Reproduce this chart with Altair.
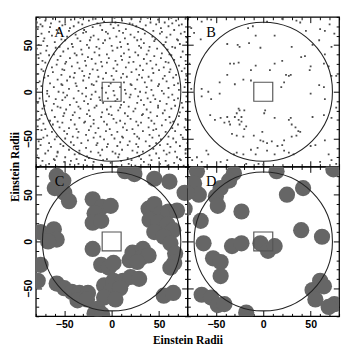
import altair as alt
import pandas as pd

# ---------------- data (Einstein radii) ----------------
A_POINTS = [
(-79,74),(-76,79),(-75,72),(-70,76),(-64,73),(-62,78),(-55,75),(-50,80),(-49,72),(-43,77),(-35,74),(-33,79),(-31,72),(-24,76),(-17,78),(-15,73),(-8,75),(-1,72),(3,79),(4,74),(11,76),(19,73),(21,78),(22,72),(30,75),(38,79),(41,74),(47,72),(49,77),(56,74),(63,79),(64,73),(68,76),(74,72),(78,78),
(-78,67),(-73,70),(-66,64),(-65,69),(-58,66),(-52,71),(-45,65),(-44,68),(-40,70),(-29,66),(-27,64),(-20,69),(-12,71),(-10,66),(-6,64),(2,68),(7,71),(8,65),(15,67),(26,70),(28,64),(33,67),(36,71),(44,65),(52,68),(53,64),(60,70),(66,66),(71,71),(77,64),
(-80,59),(-74,62),(-71,57),(-63,60),(-56,63),(-53,56),(-47,59),(-38,61),(-36,57),(-30,63),(-22,58),(-19,60),(-14,56),(-4,62),(-2,57),(5,59),(12,63),(14,57),(20,61),(24,58),(31,56),(35,62),(43,59),(46,56),(51,62),(58,58),(62,61),(69,56),(73,62),(79,58),
(-77,50),(-72,54),(-68,49),(-60,53),(-55,48),(-49,55),(-42,51),(-41,48),(-33,54),(-26,50),(-23,55),(-16,48),(-9,52),(-7,55),(0,49),(9,53),(10,48),(17,51),(27,55),(29,49),(34,52),(40,48),(45,54),(55,50),(57,53),(64,48),(70,55),(72,51),(79,53),
(-79,46),(-75,41),(-69,44),(-61,40),(-59,47),(-51,43),(-46,46),(-39,41),(-32,45),(-31,40),(-24,47),(-18,42),(-13,46),(-5,40),(1,44),(6,47),(13,41),(18,45),(25,42),(31,47),(37,40),(39,44),(48,46),(53,41),(59,45),(61,40),(67,47),(75,43),
(-77,36),(-73,33),(-66,39),(-57,34),(-54,38),(-48,32),(-44,36),(-37,39),(-28,33),(-25,37),(-21,35),(-13,39),(-11,32),(-3,36),(4,33),(10,38),(11,34),(19,37),(23,32),(28,39),(34,35),(41,33),(45,38),(52,36),(57,32),(63,39),(66,34),(73,37),(78,33),
(-80,28),(-74,24),(-70,31),(-63,26),(-58,29),(-52,24),(-49,30),(-42,27),(-36,31),(-34,25),(-27,28),(-20,24),(-17,30),(-10,27),(-5,31),(2,25),(6,29),(15,26),(18,31),(26,24),(30,28),(37,30),(43,25),(47,29),(55,26),(60,31),(62,24),(71,28),(77,25),
(-78,19),(-72,22),(-67,17),(-62,21),(-53,18),(-50,23),(-44,16),(-39,20),(-31,22),(-29,17),(-23,19),(-15,23),(-14,16),(-6,20),(0,17),(5,22),(12,19),(16,16),(21,21),(29,18),(33,23),(39,16),(44,20),(50,23),(56,17),(61,21),(68,18),(74,22),(79,17),
(-76,11),(-71,15),(-65,9),(-57,13),(-53,8),(-47,12),(-40,15),(-38,9),(-30,12),(-24,15),(-21,8),(-16,11),(-9,14),(-1,9),(2,13),(10,15),(13,10),(20,8),(27,13),(32,15),(35,10),(42,12),(50,8),(54,14),(58,11),(65,15),(70,9),(78,13),
(-79,3),(-74,6),(-68,1),(-61,5),(-56,0),(-52,7),(-45,3),(-37,6),(-35,1),(-27,4),(-19,7),(-17,0),(-10,4),(-3,6),(2,1),(9,5),(14,2),(21,7),(25,3),(30,0),(37,5),(42,2),(49,6),(53,1),(60,4),(66,7),(71,2),(77,5),
(-80,-3),(-76,-7),(-68,-2),(-66,-5),(-59,-8),(-51,-1),(-49,-6),(-47,-4),(-40,-7),(-31,-2),(-27,-5),(-22,-8),(-21,-3),(-13,-6),(-6,-1),(-4,-7),(3,-4),(6,-8),(15,-2),(19,-6),(20,-3),(28,-5),(36,-1),(38,-7),(44,-4),(46,-8),(55,-2),(60,-6),(64,-3),(70,-7),(79,-5),
(-78,-12),(-71,-15),(-69,-10),(-61,-13),(-57,-16),(-52,-9),(-44,-14),(-37,-11),(-35,-16),(-29,-10),(-25,-13),(-16,-15),(-12,-9),(-9,-12),(-1,-16),(4,-10),(10,-14),(13,-11),(18,-16),(27,-12),(31,-9),(34,-14),(41,-11),(49,-15),(51,-10),(58,-13),(66,-9),(67,-15),(74,-12),
(-79,-21),(-73,-18),(-70,-24),(-63,-20),(-54,-17),(-50,-23),(-48,-19),(-39,-22),(-33,-18),(-26,-24),(-24,-20),(-18,-17),(-10,-22),(-5,-19),(-3,-24),(7,-20),(9,-17),(14,-23),(23,-21),(25,-18),(33,-24),(37,-19),(41,-22),(49,-17),(54,-23),(56,-20),(63,-18),(72,-22),(75,-17),(80,-21),
(-76,-29),(-74,-25),(-65,-31),(-60,-27),(-57,-32),(-51,-26),(-43,-30),(-41,-25),(-34,-28),(-28,-32),(-23,-26),(-19,-30),(-11,-27),(-8,-32),(0,-25),(2,-29),(9,-31),(17,-26),(20,-29),(26,-32),(32,-25),(39,-28),(42,-31),(48,-26),(57,-30),(61,-27),(65,-32),(71,-26),(78,-29),
(-78,-37),(-72,-34),(-70,-40),(-62,-35),(-55,-38),(-52,-33),(-45,-39),(-39,-35),(-37,-40),(-29,-33),(-22,-37),(-19,-34),(-14,-39),(-5,-35),(-2,-40),(5,-33),(12,-38),(14,-34),(22,-40),(28,-36),(31,-33),(39,-38),(45,-34),(47,-40),(53,-36),(62,-33),(64,-39),(70,-35),(77,-38),
(-80,-45),(-74,-41),(-68,-47),(-63,-43),(-58,-48),(-50,-42),(-47,-45),(-41,-48),(-35,-43),(-27,-46),(-24,-41),(-17,-44),(-12,-48),(-6,-42),(0,-46),(6,-43),(11,-48),(16,-41),(24,-45),(27,-48),(33,-42),(40,-46),(44,-41),(50,-47),(57,-43),(60,-48),(67,-42),(73,-46),(79,-41),
(-77,-53),(-72,-49),(-66,-55),(-60,-51),(-54,-56),(-49,-50),(-43,-54),(-36,-49),(-32,-55),(-25,-52),(-19,-49),(-15,-55),(-8,-51),(-4,-56),(3,-50),(9,-54),(12,-49),(19,-53),(26,-56),(29,-50),(36,-53),(43,-49),(47,-55),(52,-51),(59,-56),(65,-50),(68,-54),(75,-49),(80,-55),
(-79,-61),(-75,-57),(-67,-63),(-64,-59),(-57,-64),(-51,-58),(-45,-62),(-40,-57),(-34,-63),(-27,-60),(-22,-64),(-16,-57),(-10,-62),(-5,-59),(1,-64),(6,-58),(11,-62),(17,-57),(22,-63),(28,-59),(33,-64),(40,-58),(44,-61),(51,-57),(55,-63),(62,-59),(67,-64),(72,-58),(78,-62),
(-79,-68),(-77,-71),(-70,-66),(-61,-72),(-58,-69),(-57,-65),(-49,-70),(-39,-67),(-37,-72),(-34,-66),(-26,-69),(-24,-71),(-14,-65),(-12,-68),(-5,-72),(4,-66),(7,-70),(8,-67),(17,-71),(27,-65),(29,-69),(31,-72),(40,-68),(47,-66),(50,-71),(58,-67),(61,-65),(69,-70),(72,-72),(78,-66),
(-80,-76),(-75,-79),(-73,-74),(-66,-77),(-60,-73),(-58,-80),(-50,-75),(-44,-78),(-43,-74),(-35,-77),(-28,-73),(-26,-79),(-19,-75),(-11,-78),(-9,-73),(-1,-76),(5,-80),(10,-74),(18,-77),(21,-73),(25,-79),(34,-75),(39,-78),(42,-73),(51,-77),(57,-74),(59,-79),(66,-76),(73,-73),(76,-79),
]

B_POINTS = [
(-16,68),(-11,70),(4,75),(20,78),(35,76),(39,74),(45,65),(60,67),(65,65),(70,72),(75,62),
(-38,51),(-27,50),(-25,48),(-15,52),(-8,60),(-3,47),(12,60),(30,48),(52,50),(59,55),(65,40),(64,30),
(-35,30),(-31,30),(-26,31),(-8,28),(12,30),(20,33),(40,37),(44,38),(50,27),(49,23),(69,27),(72,17),
(59,7),(64,5),(50,-2),(65,-8),(27,17),(29,18),(24,18),(22,10),(19,5),(7,23),(-13,23),(-38,18),
(-30,8),(-46,10),(-58,0),(-65,3),(-55,-8),(-13,12),(-21,13),(-46,-2),(-65,-5),(77,-17),(77,17),(72,48),(-78,30),(-76,3),
(-26,-18),(-25,-20),(-28,-23),(-30,-27),(-23,-27),(-20,-20),(-26,-30),(-23,-32),(-25,-35),(-18,-37),
(2,-20),(1,-23),(12,-28),(27,-30),(29,-28),(30,-35),(34,-38),(37,-42),(39,-43),(35,-47),(30,-48),
(52,-27),(64,-25),(72,-28),(-56,-25),(-51,-30),(-45,-28),(-38,-27),(-36,-32),(-35,-35),(-41,-33),
(-20,-40),(-33,-45),(-28,-47),(-21,-48),(-10,-47),(-1,-43),(0,-53),(-3,-52),(4,-55),(9,-53),(15,-58),(20,-57),(22,-52),
(-6,-60),(-13,-62),(-28,-65),(-31,-67),(-21,-67),(-8,-67),(4,-63),(12,-67),(22,-63),(27,-65),(32,-67),
(-5,-77),(0,-78),(-18,-77),(-38,-73),(-60,-63),(-58,-67),(-65,-75),(-45,-75),(-70,-70),(-75,-73),
(50,-58),(55,-57),(65,-52),(69,-67),(72,-73),(77,-77),(60,-75),
(-73,63),(-76,68),(-66,56),(-65,75),(-55,77),
]

C_CENTERS = [
(-58,70),(-51,65),(-60,57),(-50,52),(-45,43),
(-20,45),(-10,37),(-1,38),(-18,30),(-20,20),(-11,22),
(14,75),(24,72),(45,67),(61,64),(77,52),
(39,35),(45,40),(52,30),(60,32),(69,33),(40,23),(49,20),(59,18),(65,12),(45,10),(55,5),(62,-2),
(-75,10),(-61,13),(-58,2),(-67,0),(-20,-8),
(-11,-25),(-3,-28),(2,-23),(19,-20),(22,-12),(33,-8),(32,-17),(39,-15),(27,-22),
(67,-13),(66,-23),(62,-28),(-75,-25),(-78,-42),
(-58,-45),(-50,-50),(-42,-54),(-34,-55),(-25,-55),(-36,-63),(-26,-62),
(-8,-47),(2,-42),(12,-42),(20,-38),(29,-40),(-1,-53),(9,-50),(-8,-60),(4,-62),
(-15,-72),(-18,-77),(-10,-78),(55,-58),(65,-55),
]

D_CENTERS = [
(-70,75),(-73,62),(-68,50),(-81,52),(-83,35),
(-31,73),(-36,65),(-45,57),(-50,48),(-48,38),
(14,75),(74,77),(42,57),(25,50),(-23,32),(-66,22),(-63,-2),
(-33,-5),(-23,-2),(-3,-2),(5,-10),(12,-5),(40,12),(62,5),
(-53,-18),(-45,-22),(-45,-37),
(-65,-57),(-55,-60),(-48,-68),(-41,-67),(-18,-76),
(52,-52),(60,-42),(64,-48),(55,-62),(75,-67),(69,-70),
]

CENTER = [(0, 0)]
PANEL_LETTERS = ["A", "B", "C", "D"]
LETTER_POS = (-55, 64)
AXIS_TITLE = "Einstein Radii"
MAJOR_TICKS = [-50, 0, 50]
MINOR_TICKS = [-80, -70, -60, -40, -30, -20, -10, 10, 20, 30, 40, 60, 70, 80]
DOMAIN = [-80, 80]
RING_RADIUS = 73      # Einstein radii
BOX_HALF = 10         # Einstein radii

W, H = 158, 156
PXU_X = W / (DOMAIN[1] - DOMAIN[0])
RING_SIZE = (2 * RING_RADIUS * PXU_X) ** 2
BOX_SIZE = (2 * BOX_HALF * PXU_X) ** 2

XS = alt.Scale(domain=DOMAIN, nice=False, zero=False)
YS = alt.Scale(domain=DOMAIN, nice=False, zero=False)


def df(pts):
    return pd.DataFrame(pts, columns=["x", "y"])


def ax(orient, vals, size, labels=False, title=None, **kw):
    return alt.Axis(orient=orient, values=vals, tickSize=size, offset=-size,
                    domain=False, grid=False, labels=labels, title=title,
                    tickColor="black", tickWidth=1, **kw)


def panel(points, letter, big, xlab, ylab, xtitle, ytitle):
    xkw = dict(labelPadding=3, labelFontSize=11, labelColor="black",
               labelFont="Liberation Sans", labelFontWeight="bold")
    ykw = dict(labelPadding=2, labelFontSize=11, labelColor="black", labelAngle=-90,
               labelAlign="center", labelBaseline="bottom",
               labelFont="Liberation Sans", labelFontWeight="bold")
    if xtitle:
        xkw.update(titleX=W, titleAlign="center", titlePadding=5, titleFont="Liberation Serif",
                   titleFontSize=12, titleFontWeight="bold", titleColor="black")
    if ytitle:
        ykw.update(titleY=H, titleAlign="center", titlePadding=2, titleFont="Liberation Serif",
                   titleFontSize=12, titleFontWeight="bold", titleColor="black")
    xa = ax("bottom", MAJOR_TICKS, 6, labels=xlab, title=AXIS_TITLE if xtitle else None, **xkw)
    ya = ax("left", MAJOR_TICKS, 6, labels=ylab, title=AXIS_TITLE if ytitle else None, **ykw)

    if big:
        pm = alt.Chart(df(points)).mark_circle(size=285, color="#666666", opacity=1, clip=True)
    else:
        pm = alt.Chart(df(points)).mark_square(size=3.5, color="#4d4d4d", opacity=1, clip=True)
    pts = pm.encode(x=alt.X("x:Q", scale=XS, axis=xa), y=alt.Y("y:Q", scale=YS, axis=ya))

    ring = alt.Chart(df(CENTER)).mark_point(shape="circle", size=RING_SIZE, filled=False,
                                            color="#222222", strokeWidth=1.1, opacity=1).encode(
        x=alt.X("x:Q", scale=XS, axis=ax("top", MAJOR_TICKS, 6)),
        y=alt.Y("y:Q", scale=YS, axis=ax("right", MAJOR_TICKS, 6)))

    box = alt.Chart(df(CENTER)).mark_point(shape="square", size=BOX_SIZE, filled=False,
                                           color="#555555", strokeWidth=1.2, opacity=1).encode(
        x=alt.X("x:Q", scale=XS, axis=ax("bottom", MINOR_TICKS, 3)),
        y=alt.Y("y:Q", scale=YS, axis=ax("left", MINOR_TICKS, 3)))

    lab = alt.Chart(pd.DataFrame({"t": [letter]})).mark_text(
        font="Liberation Serif", fontSize=15, color="black", align="center", baseline="middle").encode(
        x=alt.X(datum=LETTER_POS[0], type="quantitative", scale=XS, axis=ax("top", MINOR_TICKS, 3)),
        y=alt.Y(datum=LETTER_POS[1], type="quantitative", scale=YS, axis=ax("right", MINOR_TICKS, 3)),
        text="t:N")

    return alt.layer(pts, ring, box, lab).resolve_axis(x="independent", y="independent").properties(
        width=W, height=H)


pA = panel(A_POINTS, PANEL_LETTERS[0], False, False, True, False, True)
pB = panel(B_POINTS, PANEL_LETTERS[1], False, False, False, False, False)
pC = panel(C_CENTERS, PANEL_LETTERS[2], True, True, True, True, False)
pD = panel(D_CENTERS, PANEL_LETTERS[3], True, True, False, False, False)

chart = alt.concat(pA, pB, pC, pD, columns=2, spacing=0, bounds="flush").properties(
    padding=0).configure_view(stroke="black", strokeWidth=1.3)

chart.save("out.html", embed_options={"renderer": "svg", "actions": False})
